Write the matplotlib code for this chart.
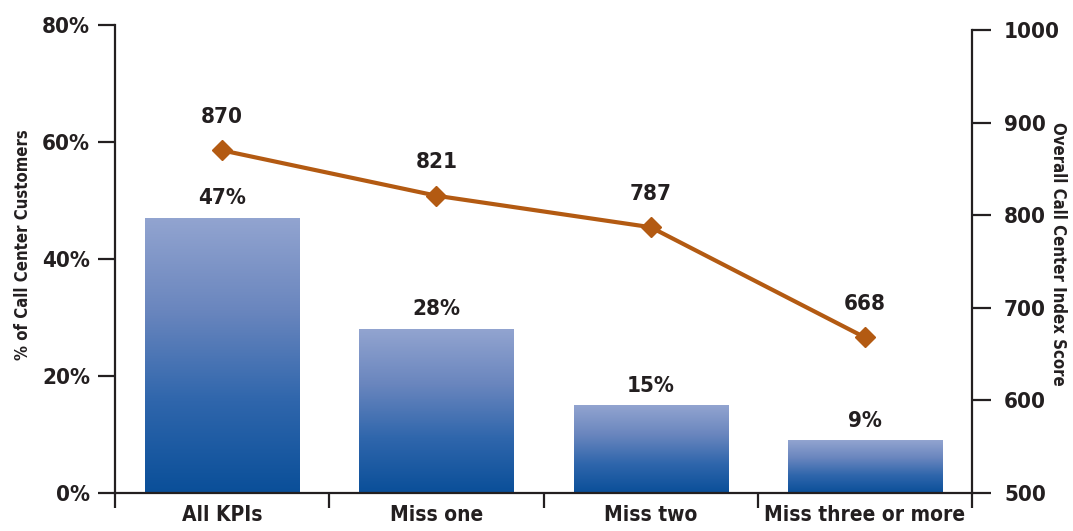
import numpy as np
import matplotlib
matplotlib.use("Agg")
import matplotlib.pyplot as plt
from matplotlib import font_manager as fm
from matplotlib.colors import LinearSegmentedColormap

categories = ["All KPIs", "Miss one", "Miss two", "Miss three or more"]
pct_customers = [47, 28, 15, 9]
index_score = [870, 821, 787, 668]
pct_ticks = [0, 20, 40, 60, 80]
score_ticks = [500, 600, 700, 800, 900, 1000]

# look for a narrow / condensed bold face, the reference uses a condensed font
def is_bold(f):
    w = f.weight
    if isinstance(w, str):
        return w in ('bold', 'heavy', 'black', 'semibold', 'demibold')
    return w >= 600

narrow = []
for f in fm.fontManager.ttflist:
    st = str(f.stretch)
    if ('Narrow' in f.name or 'Condensed' in f.name or 'condensed' in st) and is_bold(f) and f.style == 'normal':
        narrow.append(f)
pref = ['Liberation Sans Narrow', 'DejaVu Sans', 'Open Sans', 'Roboto', 'Noto Sans']
narrow.sort(key=lambda f: next((i for i, p in enumerate(pref) if f.name.startswith(p)), 99))
fname = narrow[0].fname if narrow else None

def font(size):
    if fname:
        return fm.FontProperties(fname=fname, size=size)
    return fm.FontProperties(family='DejaVu Sans', weight='bold', size=size)

txt = '#231F20'
line_col = '#B35A12'

fig = plt.figure(figsize=(10.73, 5.31), dpi=100)
ax = fig.add_axes([0.1072, 0.0716, 0.7987, 0.8814])
ax.set_xlim(-0.5, 3.5)
ax.set_ylim(0, 80)

x = np.arange(len(categories))
bars = ax.bar(x, pct_customers, width=0.72, color='none', edgecolor='none', zorder=2)

# vertical gradient inside every bar
grad_cmap = LinearSegmentedColormap.from_list('g', ['#0A4F99', '#2F66AC', '#6A86BE', '#92A4D0'])
grad = np.linspace(0, 1, 256).reshape(-1, 1)
for b in bars:
    x0, y0 = b.get_x(), b.get_y()
    w, h = b.get_width(), b.get_height()
    im = ax.imshow(grad, cmap=grad_cmap, origin='lower', aspect='auto',
                   extent=[x0, x0 + w, y0, y0 + h], zorder=2)
    im.set_clip_path(b)
ax.set_xlim(-0.5, 3.5)
ax.set_ylim(0, 80)

for xi, v in zip(x, pct_customers):
    ax.annotate(f"{v}%", (xi, v), xytext=(0, 7), textcoords='offset points',
                ha='center', va='bottom', fontproperties=font(16), color=txt)

ax2 = ax.twinx()
ax2.set_ylim(500, 1005.4)
ax2.plot(x, index_score, color=line_col, lw=3, marker='D', markersize=10, zorder=3)
for xi, v in zip(x, index_score):
    ax2.annotate(f"{v}", (xi, v), xytext=(0, 17), textcoords='offset points',
                 ha='center', va='bottom', fontproperties=font(16), color=txt)

for s in ['top', 'right']:
    ax.spines[s].set_visible(False)
for s in ['top', 'left', 'bottom']:
    ax2.spines[s].set_visible(False)
for a in (ax, ax2):
    for s in a.spines.values():
        s.set_linewidth(1.6)
        s.set_color(txt)
ax2.spines['right'].set_bounds(500, 1000)

ax.set_yticks(pct_ticks)
ax.set_yticklabels([f"{t}%" for t in pct_ticks])
ax2.set_yticks(score_ticks)
ax2.set_yticklabels([str(t) for t in score_ticks])

ax.set_xticks([-0.5, 0.5, 1.5, 2.5, 3.5])
ax.set_xticklabels([])
ax.set_xticks(x, minor=True)
ax.set_xticklabels(categories, minor=True)
ax.tick_params(axis='x', which='major', length=11, width=1.6, color=txt, direction='out')
ax.tick_params(axis='x', which='minor', length=0, pad=9, labelcolor=txt)
ax.tick_params(axis='y', length=12, width=1.6, color=txt, pad=6, labelcolor=txt)
ax2.tick_params(axis='y', length=14, width=1.6, color=txt, pad=9, labelcolor=txt)
for lab in ax.get_yticklabels() + ax2.get_yticklabels():
    lab.set_fontproperties(font(16))
for lab in ax.get_xticklabels(minor=True):
    lab.set_fontproperties(font(15))

ax.set_ylabel("% of Call Center Customers", fontproperties=font(12), color=txt, va='center')
ax.yaxis.set_label_coords(-0.107, 0.53)
ax2.set_ylabel("Overall Call Center Index Score", fontproperties=font(12), color=txt,
               rotation=270, va='center')
ax2.yaxis.set_label_coords(1.1004, 0.51)

fig.savefig("out.png", dpi=100)
